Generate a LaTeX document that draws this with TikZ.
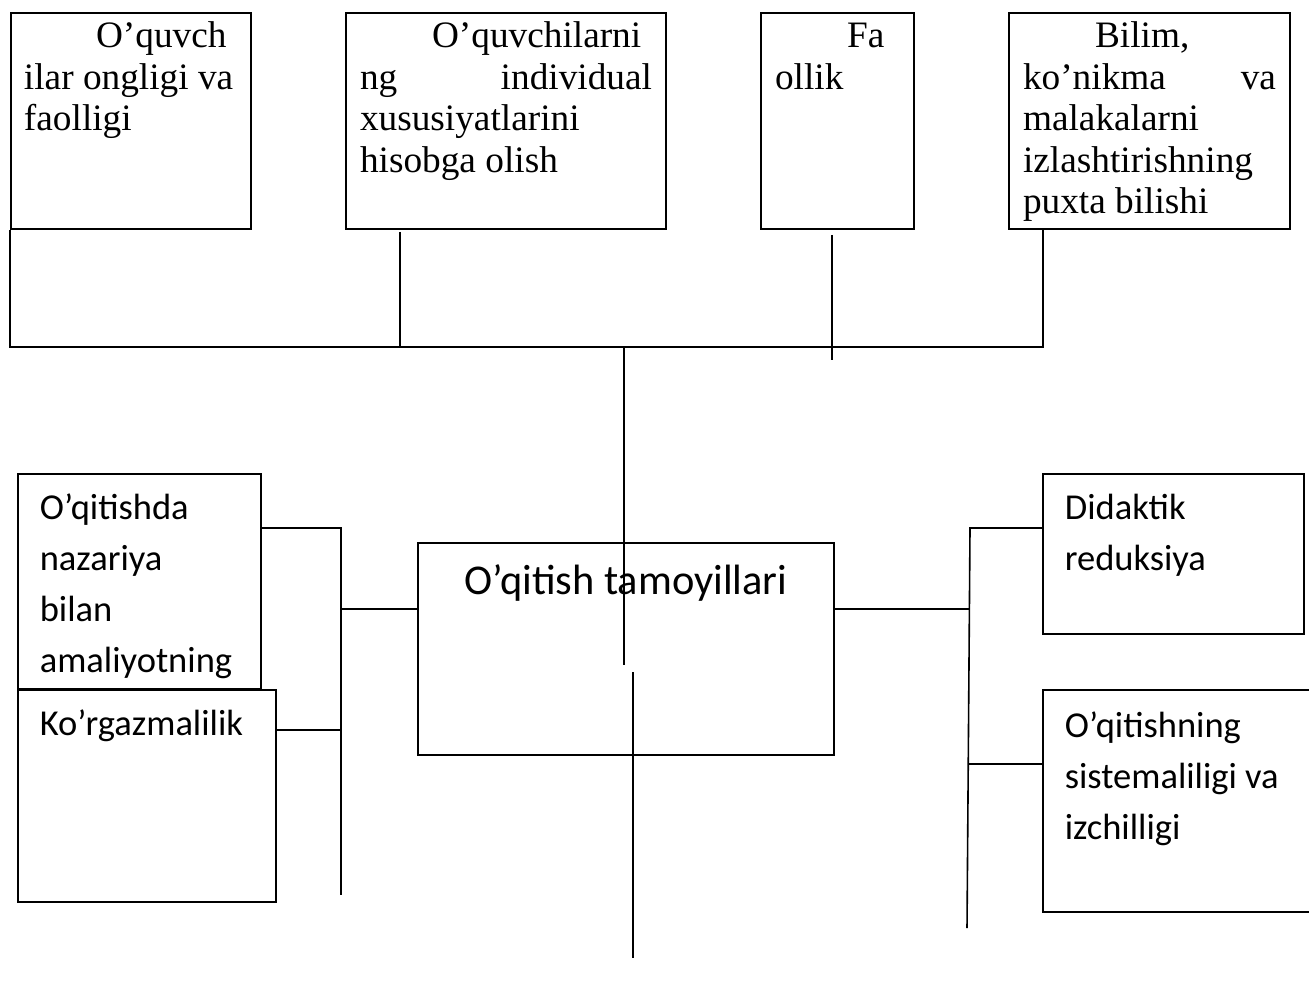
\documentclass[tikz,border=0pt]{standalone}
\usepackage{fontspec}
\setmainfont{Liberation Serif}
\newfontfamily\calibri{Carlito}
\usepackage{tikz}
\newcommand{\topfont}{\fontsize{18.65pt}{20.75pt}\selectfont}
\newcommand{\sidefont}{\calibri\fontsize{18.25pt}{25.5pt}\selectfont}
\newcommand{\midfont}{\calibri\fontsize{21.2pt}{25pt}\selectfont}
\tikzset{
  topbox/.style={draw, line width=1pt, anchor=north west, align=flush left, font=\topfont,
    inner xsep=7pt, inner ysep=5pt, text height=12.5pt, text depth=85.5pt},
  sidebox/.style={draw, line width=0.8pt, anchor=north west, align=flush left, font=\sidefont,
    inner xsep=11pt, inner ysep=10pt, text height=13pt},
  link/.style={line width=0.8pt}
}
\begin{document}
\begin{tikzpicture}[x=0.5pt,y=-0.5pt]
\useasboundingbox (0,0) rectangle (1309,989);
% top row
\node[topbox, inner xsep=6.5pt, text width=107pt] (ongli) at (10,12) {\hspace*{36pt}O’quvch\\ilar ongligi va\\faolligi};
\node[topbox, text width=146pt] (indiv) at (345,12) {\hspace*{36pt}O’quvchilarni\\ng\hfill individual\\xususiyatlarini\\hisobga olish};
\node[topbox, text width=62.5pt] (faol) at (760,12) {\hspace*{36pt}Fa\\ollik};
\node[topbox, text width=126.5pt] (bilim) at (1008,12) {\hspace*{36pt}Bilim,\\ko’nikma\hfill va\\malakalarni\\izlashtirishning\\puxta bilishi};
% centre
\node[draw, link, anchor=north west, align=flush center, font=\midfont, text width=192pt,
  inner xsep=8pt, inner ysep=11pt, text height=15pt, text depth=69pt] (tamoy) at (417,542) {O’qitish tamoyillari};
% left side
\node[sidebox, text width=99.5pt, text depth=74.5pt] (nazar) at (17,473) {O’qitishda\\nazariya\\bilan\\amaliyotning};
\fill[white] (19,679) rectangle (258,687);
\node[sidebox, fill=white, text width=107pt, text depth=73pt] (korg) at (17,689) {Ko’rgazmalilik};
% right side
\node[sidebox, text width=108.5pt, text depth=47pt] (didak) at (1042,473) {Didaktik\\reduksiya};
\node[sidebox, text width=113pt, text height=14pt, text depth=77pt] (sist) at (1042,689) {O’qitishning\\sistemaliligi va\\izchilligi};

% top bracket
\coordinate (tl) at (10,347);
\coordinate (tr) at (1043,347);
\draw[link] (ongli.south west) -- (tl) -- (tr) -- (tr |- bilim.south);
\coordinate (j2a) at (400,232); \coordinate (j2b) at (400,347);
\coordinate (j3a) at (832,235); \coordinate (j3b) at (832,360);
\draw[link] (j2a) -- (j2b);
\draw[link] (j3a) -- (j3b);
\coordinate (m1) at (624,347); \coordinate (m2) at (624,665);
\coordinate (m3) at (633,672); \coordinate (m4) at (633,958);
\draw[link] (m1) -- (m2);
\draw[link] (m3) -- (m4);
% left links
\coordinate (l1) at (341,528); \coordinate (l2) at (341,609);
\coordinate (l3) at (341,730); \coordinate (l4) at (341,895);
\draw[link] (l1 -| nazar.east) -- (l1) -- (l4);
\draw[link] (l2) -- (l2 -| tamoy.west);
\draw[link] (l3 -| korg.east) -- (l3);
% right links
\coordinate (r1) at (970,528); \coordinate (r2) at (970,609);
\coordinate (r3) at (968,764); \coordinate (r4) at (967,928);
\draw[link] (r1 -| didak.west) -- (r1) -- (r4);
\draw[link] (r2 -| tamoy.east) -- (r2);
\draw[link] (r3) -- (r3 -| sist.west);
\end{tikzpicture}
\end{document}
